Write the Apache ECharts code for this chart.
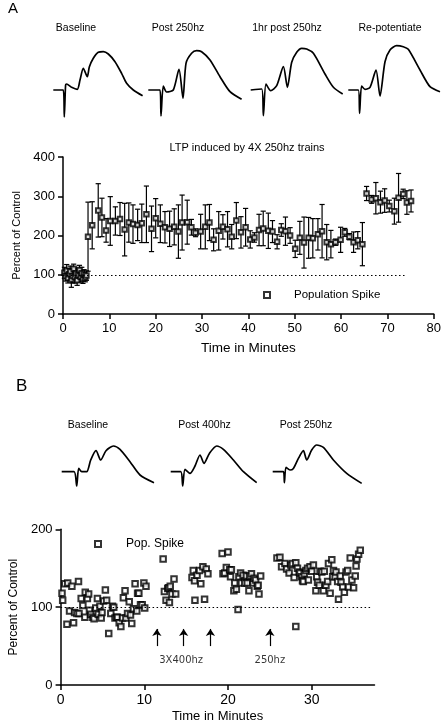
<!DOCTYPE html>
<html><head><meta charset="utf-8">
<script src="https://cdn.jsdelivr.net/npm/echarts@6/dist/echarts.min.js"></script>
<style>html,body{margin:0;padding:0;background:#fff}#c{width:444px;height:724px}</style>
</head><body><div id="c"></div>
<script>
// ---------- Panel A data ----------
const timeA = [0.3,0.55,0.8,1.05,1.3,1.55,1.8,2.05,2.3,2.55,2.8,3.05,3.3,3.55,3.8,4.05,4.3,4.55,4.8,5.05,
  5.4,6.3,7.6,8.4,9.3,10.2,11.3,12.3,13.3,14.2,15.1,16.1,17.0,18.0,19.1,20.0,21.0,22.0,23.0,24.0,
  24.9,25.7,26.8,27.7,28.6,29.7,30.7,31.6,32.5,33.6,34.5,35.5,36.4,37.4,38.4,39.4,40.4,41.3,42.3,43.2,
  44.3,45.2,46.2,47.1,48.0,49.0,50.1,51.1,52.0,53.0,53.9,55.0,55.9,56.9,57.8,58.8,59.9,60.8,61.8,62.7,
  63.6,64.6,65.5,66.6,67.5,68.5,69.4,70.4,71.5,72.4,73.4,74.2,75.1];
const meanA = [105,96,110,92,101,108,88,97,115,94,103,86,99,112,95,104,90,100,93,98,
  197,226,264,246,213,237,237,242,215,233,229,227,231,254,217,244,230,221,217,222,
  210,233,234,221,207,210,222,233,189,212,222,216,197,238,208,221,190,195,214,218,
  212,210,184,214,211,200,166,194,182,194,193,203,211,183,178,183,189,208,197,183,
  188,178,307,292,295,285,289,275,262,296,306,284,288];
const semA = [14,12,16,13,15,14,20,18,12,15,14,13,16,12,14,15,12,13,11,12,
  88,60,68,49,30,62,36,42,67,50,49,40,49,72,58,50,48,40,45,46,
  68,70,56,20,10,44,56,46,28,49,31,45,31,46,40,48,22,12,40,44,
  45,28,18,16,36,20,22,42,65,52,50,40,68,45,35,8,32,10,8,26,
  22,55,18,10,40,28,30,15,33,62,12,30,28];
const titleA = 'LTP induced by 4X 250hz trains';
const traceTitlesA = ['Baseline','Post 250hz','1hr post 250hz','Re-potentiate'];

// waveform traces (arbitrary time / amplitude units)
const traceA1 = [[0,0],[10,0],[11,-27],[12.3,5],[13.3,6],[18.3,2.7],[24,0.7],[26.7,10],[30,21.7],[34,13.3],[36,23],[40,31.7],[45,37.7],[50,38.3],[55,36],[61.7,28.3],[68.3,16.7],[73.3,6.7],[80,0],[89.3,-5.7]];
const traceA2 = [[0,0],[11.7,0],[12.7,-26],[15,4],[18.3,-2],[25,0],[30.7,20.7],[34.7,-8.3],[37.7,26.7],[43.3,36.7],[48.3,39.3],[53.3,38.3],[61.7,30],[71.7,13.3],[81.7,-1.7],[93.3,-9.3]];
const traceA3 = [[0,0],[11,1],[12.7,-25.7],[15.3,6],[20,-0.7],[26,4.3],[32.7,23.3],[36.7,2.7],[41,27.7],[46,37.7],[51,41.7],[56,41],[62.7,36.7],[74.3,16],[82.7,2.7],[92,-4]];
const traceA4 = [[0,0],[10,0],[11.3,-23.3],[13.3,4],[16.7,0.7],[21.7,2.7],[27.7,20],[31.7,-6],[36.7,28.3],[41.7,40],[48.3,44.3],[55,43.3],[60,40.7],[71.7,20],[81.7,3.3],[91.7,-1.7]];

// ---------- Panel B data ----------
const timeB = [0.17,0.25,0.5,0.76,0.85,1.07,1.35,1.55,1.67,1.95,2.14,2.2,2.46,2.66,2.9,2.95,3.2,3.35,3.45,3.6,3.85,4.0,4.2,4.4,4.5,4.7,4.85,4.95,5.15,5.35,5.5,5.75,6.0,6.2,6.35,6.5,6.7,6.8,7.0,7.2,7.4,7.5,7.7,7.8,8.0,8.2,8.35,8.5,8.7,8.9,9.1,9.2,9.35,9.55,9.75,9.95,10.05,10.2,
  12.25,12.4,12.6,12.8,12.9,13.0,13.1,13.3,13.55,13.75,
  15.7,15.85,16.0,16.05,16.3,16.6,16.75,17.0,17.2,17.4,17.6,
  19.3,19.4,19.6,19.8,20.0,20.2,20.4,20.3,20.7,20.8,21.0,21.2,21.3,21.5,21.6,21.8,22.0,22.2,22.3,22.5,22.6,22.8,23.0,23.1,23.3,23.5,23.6,23.7,23.9,
  25.85,26.2,26.4,26.8,27.0,27.3,27.5,27.7,27.9,28.1,28.1,28.3,28.5,28.6,28.8,28.9,29.0,29.1,29.3,29.5,29.6,29.8,30.0,30.2,30.5,30.6,30.7,30.9,31.0,31.2,31.4,31.5,31.7,31.9,32.0,32.2,32.4,32.5,32.6,32.8,32.9,33.1,33.2,33.4,33.5,33.7,33.9,34.1,34.3,34.4,34.6,34.8,35.0,35.2,35.3,35.4,35.6,35.8];
const valueB = [118,109,130,78,131,95,127,80,93,92,133,92,111,102,87,119,111,117,96,91,87,85,99,111,91,101,86,93,108,122,109,66,92,101,100,86,87,87,80,75,86,112,121,86,92,107,90,79,98,130,95,118,118,103,103,131,99,127,
  162,120,109,124,125,106,127,117,136,117,
  138,147,134,109,141,147,130,152,110,149,143,
  169,143,144,151,171,148,148,139,121,131,123,97,139,144,131,141,131,140,131,121,140,143,131,137,135,127,128,117,140,
  163,164,152,156,149,144,154,156,138,157,75,150,145,144,139,134,133,143,147,150,135,152,146,154,121,139,132,128,146,145,121,146,128,133,156,118,161,139,147,139,145,133,110,140,132,126,119,145,147,126,163,135,125,140,153,162,168,173];
const arrowTimesB = [11.5,14.7,17.9,25.0];
const arrowLabelsB = ['3X400hz','250hz'];
const arrowLabelTimesB = [14.4,25.0];
const traceTitlesB = ['Baseline','Post 400hz','Post 250hz'];
const traceB1 = [[0,0],[12.3,0],[15,-14.3],[17,3.3],[20,0],[25,0],[29,11.7],[34.3,21],[39,11.7],[44.3,21],[51.7,25.7],[58.3,22.3],[68.3,10],[78.3,-3.3],[92.3,-11]];
const traceB2 = [[0,0],[10,0],[12,-14.3],[14.3,2.3],[19.3,-1.7],[24.3,5.7],[29.3,16.7],[33.3,8.3],[38.7,18.3],[46,25.7],[52.7,22.3],[62.7,11.7],[72.7,0],[86,-11]];
const traceB3 = [[0,0],[10.7,0],[11.7,-11],[13.3,4.3],[17.3,1.7],[20.7,3.3],[25.7,13.3],[30.7,21],[34,11.7],[39,21.7],[44,26.7],[50.7,24.3],[60.7,11.7],[74,-1.7],[89,-11.7]];

// ---------- build option ----------
const FONT = 'Liberation Sans, Arial, Helvetica, sans-serif';
const K = '#000';
const chart = echarts.init(document.getElementById('c'), null, {renderer: 'canvas'});

const grids = [
  {left: 63, top: 157, right: 7, bottom: 410},      // main A
  {left: 59.3, top: 529.3, right: 69.5, bottom: 38.3} // main B
];
const xAxes = [
  {gridIndex: 0, type: 'value', min: 0, max: 80, interval: 10,
   axisLine: {lineStyle: {color: K, width: 1.5}}, axisTick: {length: 5, lineStyle: {color: K, width: 1.5}},
   splitLine: {show: false}, axisLabel: {color: K, fontSize: 13, margin: 8, fontFamily: FONT},
   name: 'Time in Minutes', nameLocation: 'middle', nameGap: 27,
   nameTextStyle: {color: K, fontSize: 13.5, fontFamily: FONT}},
  {gridIndex: 1, type: 'value', min: 0, max: 37.5, interval: 10,
   axisLine: {lineStyle: {color: K, width: 1.5}},
   axisTick: {length: 5, lineStyle: {color: K, width: 1.5}, customValues: [0,10,20,30]},
   splitLine: {show: false},
   axisLabel: {color: K, fontSize: 14, margin: 8, fontFamily: FONT, customValues: [0,10,20,30]},
   name: 'Time in Minutes', nameLocation: 'middle', nameGap: 25,
   nameTextStyle: {color: K, fontSize: 13, fontFamily: FONT}}
];
const yAxes = [
  {gridIndex: 0, type: 'value', min: 0, max: 400, interval: 100,
   axisLine: {show: true, lineStyle: {color: K, width: 1.5}}, axisTick: {show: true, length: 5, lineStyle: {color: K, width: 1.5}},
   splitLine: {show: false}, axisLabel: {color: K, fontSize: 13, margin: 8, fontFamily: FONT},
   name: 'Percent of Control', nameLocation: 'middle', nameGap: 32, nameRotate: 90,
   nameTextStyle: {color: K, fontSize: 11, fontFamily: FONT}},
  {gridIndex: 1, type: 'value', min: 0, max: 200, interval: 100,
   axisLine: {show: true, lineStyle: {color: K, width: 1.5}}, axisTick: {show: true, length: 5, lineStyle: {color: K, width: 1.5}},
   splitLine: {show: false}, axisLabel: {color: K, fontSize: 13, margin: 8, fontFamily: FONT},
   name: 'Percent of Control', nameLocation: 'middle', nameGap: 31, nameRotate: 90,
   nameTextStyle: {color: K, fontSize: 12, fontFamily: FONT}}
];
const series = [];

// waveform panels
const traceSets = [
  {data: [traceA1, traceA2, traceA3, traceA4], lefts: [53.3,148.3,250.7,348.3], top: 44, ymin: -30, ymax: 46},
  {data: [traceB1, traceB2, traceB3], lefts: [61.7,170.7,272.7], top: 441.7, ymin: -16, ymax: 30}
];
traceSets.forEach(set => {
  set.data.forEach((tr, i) => {
    const gi = grids.length;
    grids.push({left: set.lefts[i], top: set.top, width: 95, height: set.ymax - set.ymin});
    xAxes.push({gridIndex: gi, type: 'value', min: 0, max: 95, show: false});
    yAxes.push({gridIndex: gi, type: 'value', min: set.ymin, max: set.ymax, show: false});
    series.push({type: 'line', xAxisIndex: gi, yAxisIndex: gi, data: tr, showSymbol: false,
      smooth: 0.25, lineStyle: {color: K, width: 1.7}, silent: true});
  });
});

// Panel A error bars
series.push({type: 'custom', name: 'errA', xAxisIndex: 0, yAxisIndex: 0, silent: true, z: 2,
  data: timeA.map((t, i) => [t, meanA[i] - semA[i], meanA[i] + semA[i]]),
  encode: {x: 0, y: [1, 2]},
  renderItem: function (params, api) {
    const x = api.value(0);
    const lo = api.coord([x, api.value(1)]);
    const hi = api.coord([x, api.value(2)]);
    const w = 2.6, st = {stroke: K, lineWidth: 1.2};
    return {type: 'group', children: [
      {type: 'line', shape: {x1: lo[0], y1: lo[1], x2: hi[0], y2: hi[1]}, style: st},
      {type: 'line', shape: {x1: hi[0] - w, y1: hi[1], x2: hi[0] + w, y2: hi[1]}, style: st},
      {type: 'line', shape: {x1: lo[0] - w, y1: lo[1], x2: lo[0] + w, y2: lo[1]}, style: st}
    ]};
  }});
// Panel A means
series.push({type: 'scatter', name: 'Population Spike', xAxisIndex: 0, yAxisIndex: 0, z: 3,
  data: timeA.map((t, i) => [t, meanA[i]]), symbol: 'emptyRect', symbolSize: 4.5,
  itemStyle: {color: K, borderColor: K, borderWidth: 0.9}, silent: true,
  markLine: {silent: true, symbol: ['none', 'none'], label: {show: false},
    lineStyle: {color: K, type: [1.5, 2.5], width: 1.2},
    data: [[{coord: [0, 100]}, {coord: [74, 100]}]]}});
// Panel B points
series.push({type: 'scatter', name: 'Pop. Spike', xAxisIndex: 1, yAxisIndex: 1, z: 3,
  data: timeB.map((t, i) => [t, valueB[i]]), symbol: 'emptyRect', symbolSize: 5.5,
  itemStyle: {color: K, borderColor: K, borderWidth: 0.9}, silent: true,
  markLine: {silent: true, symbol: ['none', 'none'], label: {show: false},
    lineStyle: {color: K, type: [1.5, 2.5], width: 1.2},
    data: [[{coord: [0, 100]}, {coord: [37, 100]}]]}});
// Panel B annotations (arrows + labels)
series.push({type: 'scatter', name: 'notes', xAxisIndex: 1, yAxisIndex: 1, z: 4, silent: true,
  data: arrowLabelTimesB.map((t, i) => ({value: [t, 32], name: arrowLabelsB[i]})),
  symbolSize: 0,
  label: {show: true, position: 'inside', formatter: p => p.name, color: K, fontSize: 10, fontFamily: 'DejaVu Sans, sans-serif'},
  markLine: {silent: true, symbol: ['none', 'arrow'], symbolSize: 7, label: {show: false},
    lineStyle: {color: K, type: 'solid', width: 1.2},
    data: arrowTimesB.map(t => [{coord: [t, 50]}, {coord: [t, 72]}])}});

const graphic = [
  {type: 'text', left: 8, top: 1, style: {text: 'A', font: '15px ' + FONT, fill: K}},
  {type: 'text', left: 16, top: 378, style: {text: 'B', font: '17px ' + FONT, fill: K}},
  {type: 'text', x: 247, y: 148, style: {text: titleA, font: '11px ' + FONT, fill: K, textAlign: 'center', textVerticalAlign: 'middle'}}
];
[76, 178, 287, 390].forEach((cx, i) => graphic.push({type: 'text', x: cx, y: 28,
  style: {text: traceTitlesA[i], font: '10.5px ' + FONT, fill: K, textAlign: 'center', textVerticalAlign: 'middle'}}));
[88, 204.5, 306].forEach((cx, i) => graphic.push({type: 'text', x: cx, y: 425,
  style: {text: traceTitlesB[i], font: '10.5px ' + FONT, fill: K, textAlign: 'center', textVerticalAlign: 'middle'}}));

chart.setOption({
  animation: false,
  backgroundColor: '#fff',
  textStyle: {fontFamily: FONT},
  grid: grids, xAxis: xAxes, yAxis: yAxes, series: series, graphic: graphic,
  legend: [
    {data: ['Population Spike'], left: 263, top: 289, padding: 0, itemWidth: 6, itemHeight: 6, selectedMode: false,
     textStyle: {color: K, fontSize: 11.5, fontFamily: FONT, padding: [0, 0, 0, 19]}},
    {data: ['Pop. Spike'], left: 94, top: 538, padding: 0, itemWidth: 6, itemHeight: 6, selectedMode: false,
     textStyle: {color: K, fontSize: 12, fontFamily: FONT, padding: [0, 0, 0, 20]}}
  ]
});
</script></body></html>
